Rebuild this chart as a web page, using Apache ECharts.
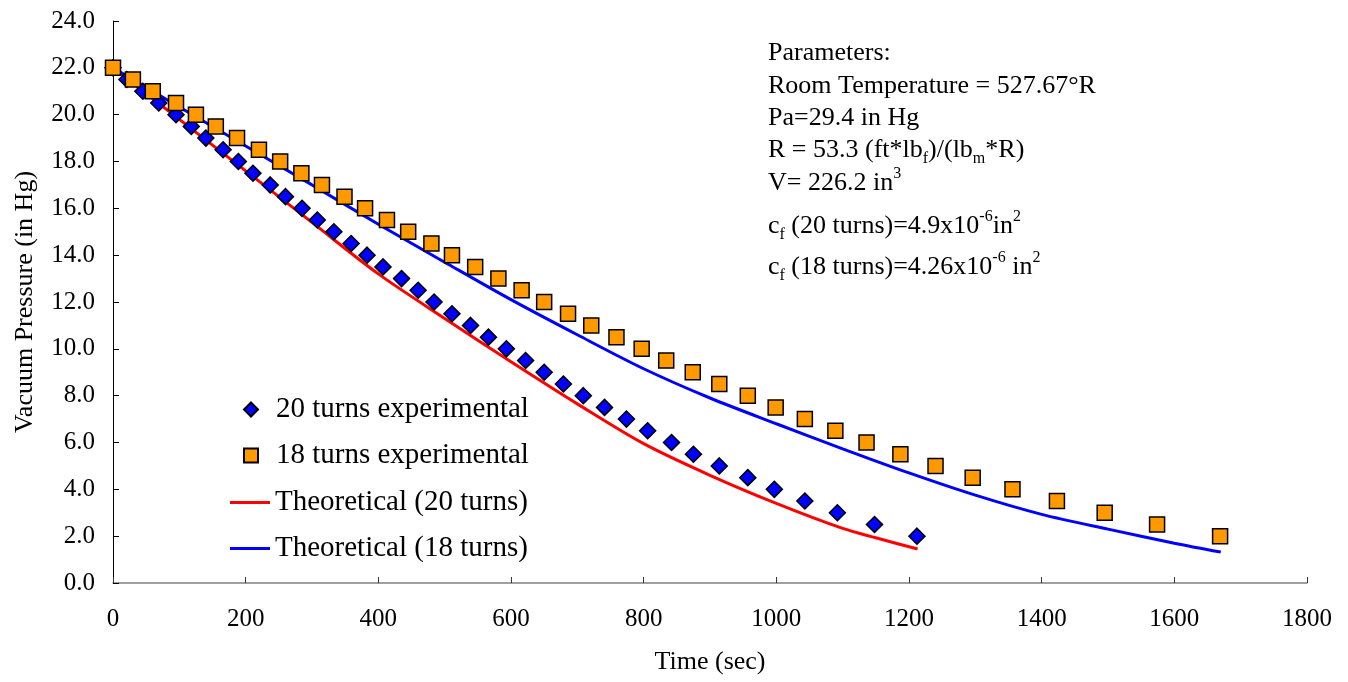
<!DOCTYPE html>
<html>
<head>
<meta charset="utf-8">
<script src="https://cdn.jsdelivr.net/npm/echarts@6/dist/echarts.min.js"></script>
<style>
  html, body { margin: 0; padding: 0; background: #fff; }
  #chart { width: 1348px; height: 682px; }
</style>
</head>
<body>
<div id="chart"></div>
<script>
// experimental readings (time in sec, vacuum pressure in in Hg)
const exp20Time = [0, 21, 45, 69, 95, 118, 140, 166, 189, 211, 237, 260, 285, 308, 333, 359, 383, 407, 435, 460,
  484, 511, 539, 566, 593, 622, 650, 679, 709, 741, 774, 806, 842, 875, 914, 957, 997, 1043, 1092, 1148, 1212];
const exp20Press = [22, 21.5, 21, 20.5, 20, 19.5, 19, 18.5, 18, 17.5, 17, 16.5, 16, 15.5, 15, 14.5, 14, 13.5, 13, 12.5,
  12, 11.5, 11, 10.5, 10, 9.5, 9, 8.5, 8, 7.5, 7, 6.5, 6, 5.5, 5, 4.5, 4, 3.5, 3, 2.5, 2];

const exp18Time = [0, 30, 60, 95, 125, 155, 187, 220, 252, 284, 315, 349, 380, 413, 445, 480, 511, 546, 581, 616,
  650, 686, 721, 759, 797, 834, 874, 914, 957, 999, 1043, 1089, 1136, 1187, 1240, 1296, 1356, 1423, 1495, 1574, 1669];
const exp18Press = [22, 21.5, 21, 20.5, 20, 19.5, 19, 18.5, 18, 17.5, 17, 16.5, 16, 15.5, 15, 14.5, 14, 13.5, 13, 12.5,
  12, 11.5, 11, 10.5, 10, 9.5, 9, 8.5, 8, 7.5, 7, 6.5, 6, 5.5, 5, 4.5, 4, 3.5, 3, 2.5, 2];

// theoretical curves
const theo20Time = [0, 100, 200, 300, 400, 500, 600, 700, 800, 900, 1000, 1100, 1150, 1213];
const theo20Press = [22, 19.8, 17.6, 15.4, 13.2, 11.3, 9.45, 7.65, 5.95, 4.6, 3.4, 2.33, 1.93, 1.45];

const theo18Time = [0, 100, 200, 300, 400, 500, 600, 700, 800, 900, 1000, 1100, 1200, 1300, 1400, 1500, 1600, 1670];
const theo18Press = [22, 20.33, 18.66, 17.0, 15.32, 13.7, 12.1, 10.6, 9.15, 7.9, 6.8, 5.73, 4.7, 3.75, 2.93, 2.3, 1.7, 1.32];

const seriesNames = ['20 turns experimental', '18 turns experimental', 'Theoretical (20 turns)', 'Theoretical (18 turns)'];

const FONT = '"Liberation Serif", "Times New Roman", serif';

function pairs(xs, ys) {
    return xs.map((x, i) => [x, ys[i]]);
}

// parameter box lines; rich tokens for sub/superscripts
const paramLines = [
    '{n|Parameters:}',
    '{n|Room Temperature = 527.67°R}',
    '{n|Pa=29.4 in Hg}',
    '{n|R = 53.3 (ft*lb}{sub|f}{n|)/(lb}{sub|m}{n|*R)}',
    '{n|V= 226.2 in}{sup|3}',
    '{n|c}{sub|f}{n| (20 turns)=4.9x10}{sup|-6}{n|in}{sup|2}',
    '{n|c}{sub|f}{n| (18 turns)=4.26x10}{sup|-6}{n| in}{sup|2}'
];
const paramY = [53, 86, 118, 150, 183, 226, 267];

const rich = {
    n: { fontSize: 26, fontFamily: FONT, fill: '#000', lineHeight: 34 },
    sub: { fontSize: 16, fontFamily: FONT, fill: '#000', verticalAlign: 'bottom', lineHeight: 16 },
    sup: { fontSize: 16, fontFamily: FONT, fill: '#000', verticalAlign: 'top', lineHeight: 16 }
};

const legendText = { fontSize: 29, fontFamily: FONT, color: '#000' };

const chart = echarts.init(document.getElementById('chart'));

const option = {
    animation: false,
    backgroundColor: '#fff',
    grid: { left: 113, right: 41, top: 21, bottom: 99 },
    legend: [
        {
            // markers
            orient: 'vertical',
            left: 238,
            top: 390,
            itemWidth: 14,
            itemHeight: 14,
            itemGap: 17,
            data: seriesNames.slice(0, 2),
            textStyle: Object.assign({ padding: [0, 0, 0, 13] }, legendText)
        },
        {
            // lines
            orient: 'vertical',
            left: 225,
            top: 483,
            itemWidth: 40,
            itemHeight: 3,
            itemGap: 17,
            icon: 'rect',
            data: seriesNames.slice(2),
            textStyle: legendText
        }
    ],
    xAxis: {
        type: 'value',
        min: 0, max: 1800, interval: 200,
        name: 'Time (sec)',
        nameLocation: 'middle',
        nameGap: 66,
        nameTextStyle: { fontSize: 26, fontFamily: FONT, color: '#000' },
        axisLine: { lineStyle: { color: '#808080', width: 1.5 } },
        axisTick: { inside: true, length: 6, lineStyle: { color: '#333' } },
        axisLabel: { margin: 24, fontSize: 25, fontFamily: FONT, color: '#000',
            formatter: v => String(v) },
        splitLine: { show: false }
    },
    yAxis: {
        type: 'value',
        min: 0, max: 24, interval: 2,
        name: 'Vacuum Pressure (in Hg)',
        nameLocation: 'middle',
        nameGap: 75,
        nameTextStyle: { fontSize: 26, fontFamily: FONT, color: '#000' },
        axisLine: { show: true, lineStyle: { color: '#000', width: 1 } },
        axisTick: { show: true, inside: true, length: 6, lineStyle: { color: '#000' } },
        axisLabel: { margin: 18, fontSize: 25, fontFamily: FONT, color: '#000',
            formatter: v => v.toFixed(1) },
        splitLine: { show: false }
    },
    graphic: paramLines.map((t, i) => ({
        type: 'text',
        x: 768,
        y: paramY[i],
        style: { text: t, rich: rich, verticalAlign: 'middle', align: 'left' }
    })),
    series: [
        {
            name: seriesNames[0],
            type: 'scatter',
            z: 4,
            symbol: 'diamond',
            symbolSize: 16,
            itemStyle: { color: '#0000FF', borderColor: '#000', borderWidth: 1.5, opacity: 1 },
            data: pairs(exp20Time, exp20Press)
        },
        {
            name: seriesNames[1],
            type: 'scatter',
            z: 5,
            symbol: 'rect',
            symbolSize: 15,
            itemStyle: { color: '#FF9900', borderColor: '#000', borderWidth: 1.5, opacity: 1 },
            data: pairs(exp18Time, exp18Press)
        },
        {
            name: seriesNames[2],
            type: 'line',
            z: 2,
            symbol: 'none',
            smooth: 0.3,
            lineStyle: { color: '#FF0000', width: 3 },
            itemStyle: { color: '#FF0000' },
            data: pairs(theo20Time, theo20Press)
        },
        {
            name: seriesNames[3],
            type: 'line',
            z: 2,
            symbol: 'none',
            smooth: 0.3,
            lineStyle: { color: '#0000FF', width: 3 },
            itemStyle: { color: '#0000FF' },
            data: pairs(theo18Time, theo18Press)
        }
    ]
};

chart.setOption(option);
</script>
</body>
</html>
